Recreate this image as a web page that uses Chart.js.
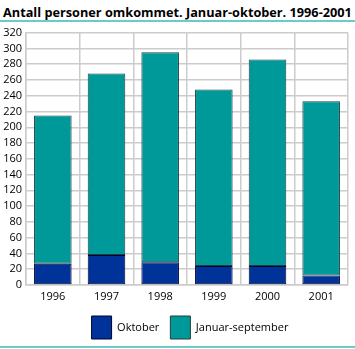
<!DOCTYPE html>
<html>
<head>
<meta charset="utf-8">
<script src="https://cdn.jsdelivr.net/npm/chart.js@4"></script>
<style>
  body { margin: 0; background: #fff; width: 355px; height: 349px; overflow: hidden; }
  #title {
    position: absolute; left: 3px; top: 3px;
    font: bold 12px "Open Sans", sans-serif; color: #000; white-space: nowrap;
  }
  .rule { position: absolute; left: 0; width: 355px; height: 2px; background: #66cccc; }
  #chartBox { position: absolute; left: 0; top: 22px; width: 355px; height: 327px; }
</style>
</head>
<body>
<div id="title">Antall personer omkommet. Januar-oktober. 1996-2001</div>
<div class="rule" style="top:20px"></div>
<div id="chartBox"><canvas id="chart" width="355" height="327"></canvas></div>
<div class="rule" style="top:346px"></div>
<script>
// years on the x axis
const years = ['1996', '1997', '1998', '1999', '2000', '2001'];

// persons killed in October
const oktober = [27, 38, 29, 24, 24, 12];

// persons killed January-September
const januarSeptember = [188, 230, 266, 224, 262, 221];

const yMax = 320;
const yStep = 20;

// stretch the heading to run across the full width
const title = document.getElementById('title');
const titleWidth = 349;
title.style.fontSize = (12 * titleWidth / title.getBoundingClientRect().width) + 'px';

const tickFont = { family: 'Open Sans', size: 11 };

// centre the legend under the plot area instead of the whole canvas
const legendUnderPlot = {
    id: 'legendUnderPlot',
    afterLayout(chart) {
        const legend = chart.legend;
        legend.left = chart.chartArea.left;
        legend.right = chart.chartArea.right + 6;
        legend.width = legend.right - legend.left;
    }
};

const ctx = document.getElementById('chart');

const chart = new Chart(ctx, {
    type: 'bar',
    data: {
        labels: years,
        datasets: [
            {
                label: 'Oktober',
                data: oktober,
                backgroundColor: '#003399',
                borderColor: '#000033',
                borderWidth: 1,
                borderSkipped: false,
                barPercentage: 0.7,
                categoryPercentage: 1
            },
            {
                label: 'Januar-september',
                data: januarSeptember,
                backgroundColor: '#009999',
                borderColor: '#1f3f3f',
                borderWidth: 1,
                borderSkipped: false,
                barPercentage: 0.7,
                categoryPercentage: 1
            }
        ]
    },
    options: {
        responsive: false,
        animation: false,
        layout: { padding: { top: 10, right: 7, left: 0, bottom: 0 } },
        plugins: {
            tooltip: { enabled: false },
            legend: {
                position: 'bottom',
                labels: {
                    boxWidth: 20,
                    boxHeight: 23,
                    padding: 11,
                    color: '#000',
                    font: { family: 'Open Sans', size: 11 }
                }
            }
        },
        scales: {
            x: {
                stacked: true,
                grid: { color: '#cccccc', lineWidth: 1.5, offset: true, drawTicks: false },
                border: { color: '#cccccc', width: 1.5 },
                ticks: { color: '#000', font: tickFont, padding: 5 },
                afterFit: (scale) => { scale.height = 20; }
            },
            y: {
                stacked: true,
                min: 0,
                max: yMax,
                grid: { color: '#cccccc', lineWidth: 1.5, drawTicks: false },
                border: { color: '#cccccc', width: 1.5 },
                ticks: { stepSize: yStep, autoSkip: false, color: '#000', font: tickFont, padding: 4 },
                afterFit: (scale) => { scale.width = 26; }
            }
        }
    },
    plugins: [legendUnderPlot]
});
</script>
</body>
</html>
